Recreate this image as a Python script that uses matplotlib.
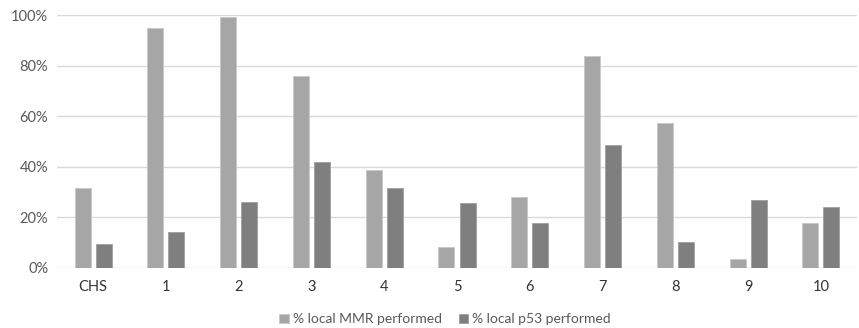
import numpy as np
import matplotlib.pyplot as plt
from matplotlib.ticker import PercentFormatter

categories = ["CHS", "1", "2", "3", "4", "5", "6", "7", "8", "9", "10"]
mmr = [31.5, 95.0, 99.3, 75.8, 38.9, 8.4, 28.2, 83.7, 57.2, 3.4, 17.7]
p53 = [9.6, 14.1, 26.1, 41.8, 31.5, 25.7, 17.9, 48.5, 10.2, 26.9, 24.2]

plt.rcParams['font.family'] = ['Lato', 'DejaVu Sans']

fig = plt.figure(figsize=(8.59, 3.28), dpi=100)
ax = fig.add_axes([0.066, 0.183, 0.932, 0.771])

x = np.arange(len(categories))
w = 0.22
ax.bar(x - 0.145, mmr, w, color='#a6a6a6', edgecolor='#c8c8c8', linewidth=0.6,
       label='% local MMR performed', zorder=3)
ax.bar(x + 0.145, p53, w, color='#7f7f7f', edgecolor='#a0a0a0', linewidth=0.6,
       label='% local p53 performed', zorder=3)

ax.set_xlim(-0.5, len(categories) - 0.5)
ax.set_ylim(0, 100)
ax.set_yticks([0, 20, 40, 60, 80, 100])
ax.yaxis.set_major_formatter(PercentFormatter(decimals=0))
ax.grid(axis='y', color='#d9d9d9', linewidth=1, zorder=0)
for s in ax.spines.values():
    s.set_visible(False)
ax.tick_params(length=0)
ax.tick_params(axis='y', labelsize=10.5, colors='#595959', pad=6)
ax.set_xticks(x)
ax.set_xticklabels(categories, fontsize=10.5, color='#333333')
ax.tick_params(axis='x', pad=9)

ax.legend(loc='upper center', bbox_to_anchor=(0.485, -0.13), ncol=2, frameon=False,
          fontsize=10, handlelength=0.7, handleheight=0.7, handletextpad=0.3,
          columnspacing=1.2, labelcolor='#595959')

fig.savefig('out.png', dpi=100)
